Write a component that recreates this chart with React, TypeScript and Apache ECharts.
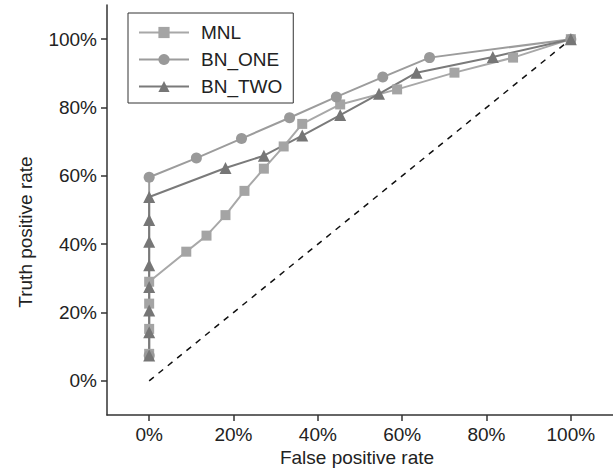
import React, { useEffect, useRef } from "react";
import * as echarts from "echarts";

const tickValues = [0, 20, 40, 60, 80, 100];

const mnlX = [0, 0, 0, 0, 8.8, 13.6, 18.1, 22.6, 27.2, 31.9, 36.3, 45.3, 58.8, 72.4, 86.3, 100];
const mnlY = [7.9, 15.2, 22.6, 29, 37.8, 42.5, 48.5, 55.6, 62.1, 68.6, 75.2, 80.9, 85.3, 90.2, 94.6, 100];

const bnOneX = [0, 0, 11.2, 21.9, 33.3, 44.4, 55.4, 66.5, 100];
const bnOneY = [7.4, 59.6, 65.2, 70.9, 77, 83.1, 88.9, 94.6, 100];

const bnTwoX = [0, 0, 0, 0, 0, 0, 0, 0, 18.1, 27.2, 36.3, 45.3, 54.5, 63.4, 81.5, 100];
const bnTwoY = [7.4, 14.2, 20.6, 27.5, 33.8, 40.7, 47.1, 53.8, 62.3, 65.9, 71.8, 77.8, 84, 90.2, 94.8, 100];

const diagX = [0, 100];
const diagY = [0, 100];

const zip = (xs: number[], ys: number[]) => xs.map((x, i) => [x, ys[i]]);

const FONT = "'Liberation Sans', Arial, sans-serif";
const FS = 19;

export default function App() {
  const ref = useRef<HTMLDivElement>(null);
  useEffect(() => {
    if (!ref.current) return;
    const chart = echarts.init(ref.current, undefined, { renderer: "svg" });
    const axisCommon = {
      type: "value" as const,
      min: -10,
      max: 110,
      splitLine: { show: false },
      axisLine: { show: true, onZero: false, lineStyle: { color: "#333", width: 1.5 } },
      axisTick: {
        show: true,
        inside: false,
        length: 6,
        customValues: tickValues,
        lineStyle: { color: "#333", width: 1.5 },
      },
      axisLabel: {
        customValues: tickValues,
        formatter: "{value}%",
        color: "#222",
        fontSize: FS,
        fontFamily: FONT,
        margin: 10,
      },
    };
    chart.setOption({
      animation: false,
      grid: { left: 107, right: 0, top: 5, bottom: 53, containLabel: false },
      xAxis: { ...axisCommon },
      yAxis: { ...axisCommon },
      legend: {
        left: 128,
        top: 13,
        orient: "vertical",
        data: ["MNL", "BN_ONE", "BN_TWO"],
        itemWidth: 50,
        itemHeight: 14,
        itemGap: 8,
        padding: [10, 11, 7, 10],
        borderColor: "#333",
        borderWidth: 1,
        backgroundColor: "#fff",
        textStyle: { fontSize: FS, fontFamily: FONT, color: "#222", padding: [0, 0, 0, 7] },
      },
      graphic: [
        {
          type: "text",
          x: 25,
          y: 232,
          rotation: Math.PI / 2,
          style: {
            text: "Truth positive rate",
            fontSize: FS,
            fontFamily: FONT,
            fill: "#222",
            align: "center",
            verticalAlign: "middle",
          },
        },
        {
          type: "text",
          x: 357,
          y: 457,
          style: {
            text: "False positive rate",
            fontSize: FS,
            fontFamily: FONT,
            fill: "#222",
            align: "center",
            verticalAlign: "middle",
          },
        },
      ],
      series: [
        {
          name: "diag",
          type: "line",
          data: zip(diagX, diagY),
          symbol: "none",
          lineStyle: { color: "#111", width: 1.5, type: [6, 6] },
          silent: true,
        },
        {
          name: "MNL",
          type: "line",
          data: zip(mnlX, mnlY),
          symbol: "rect",
          symbolSize: 10,
          itemStyle: { color: "#a4a4a4" },
          lineStyle: { color: "#a8a8a8", width: 2 },
        },
        {
          name: "BN_ONE",
          type: "line",
          data: zip(bnOneX, bnOneY),
          symbol: "circle",
          symbolSize: 11,
          itemStyle: { color: "#999999" },
          lineStyle: { color: "#9c9c9c", width: 2 },
        },
        {
          name: "BN_TWO",
          type: "line",
          data: zip(bnTwoX, bnTwoY),
          symbol: "triangle",
          symbolSize: 12,
          itemStyle: { color: "#767676" },
          lineStyle: { color: "#7a7a7a", width: 2 },
        },
      ],
    });
    return () => chart.dispose();
  }, []);
  return <div ref={ref} style={{ width: 613, height: 468, position: "fixed", left: 0, top: 0, background: "#fff" }} />;
}
